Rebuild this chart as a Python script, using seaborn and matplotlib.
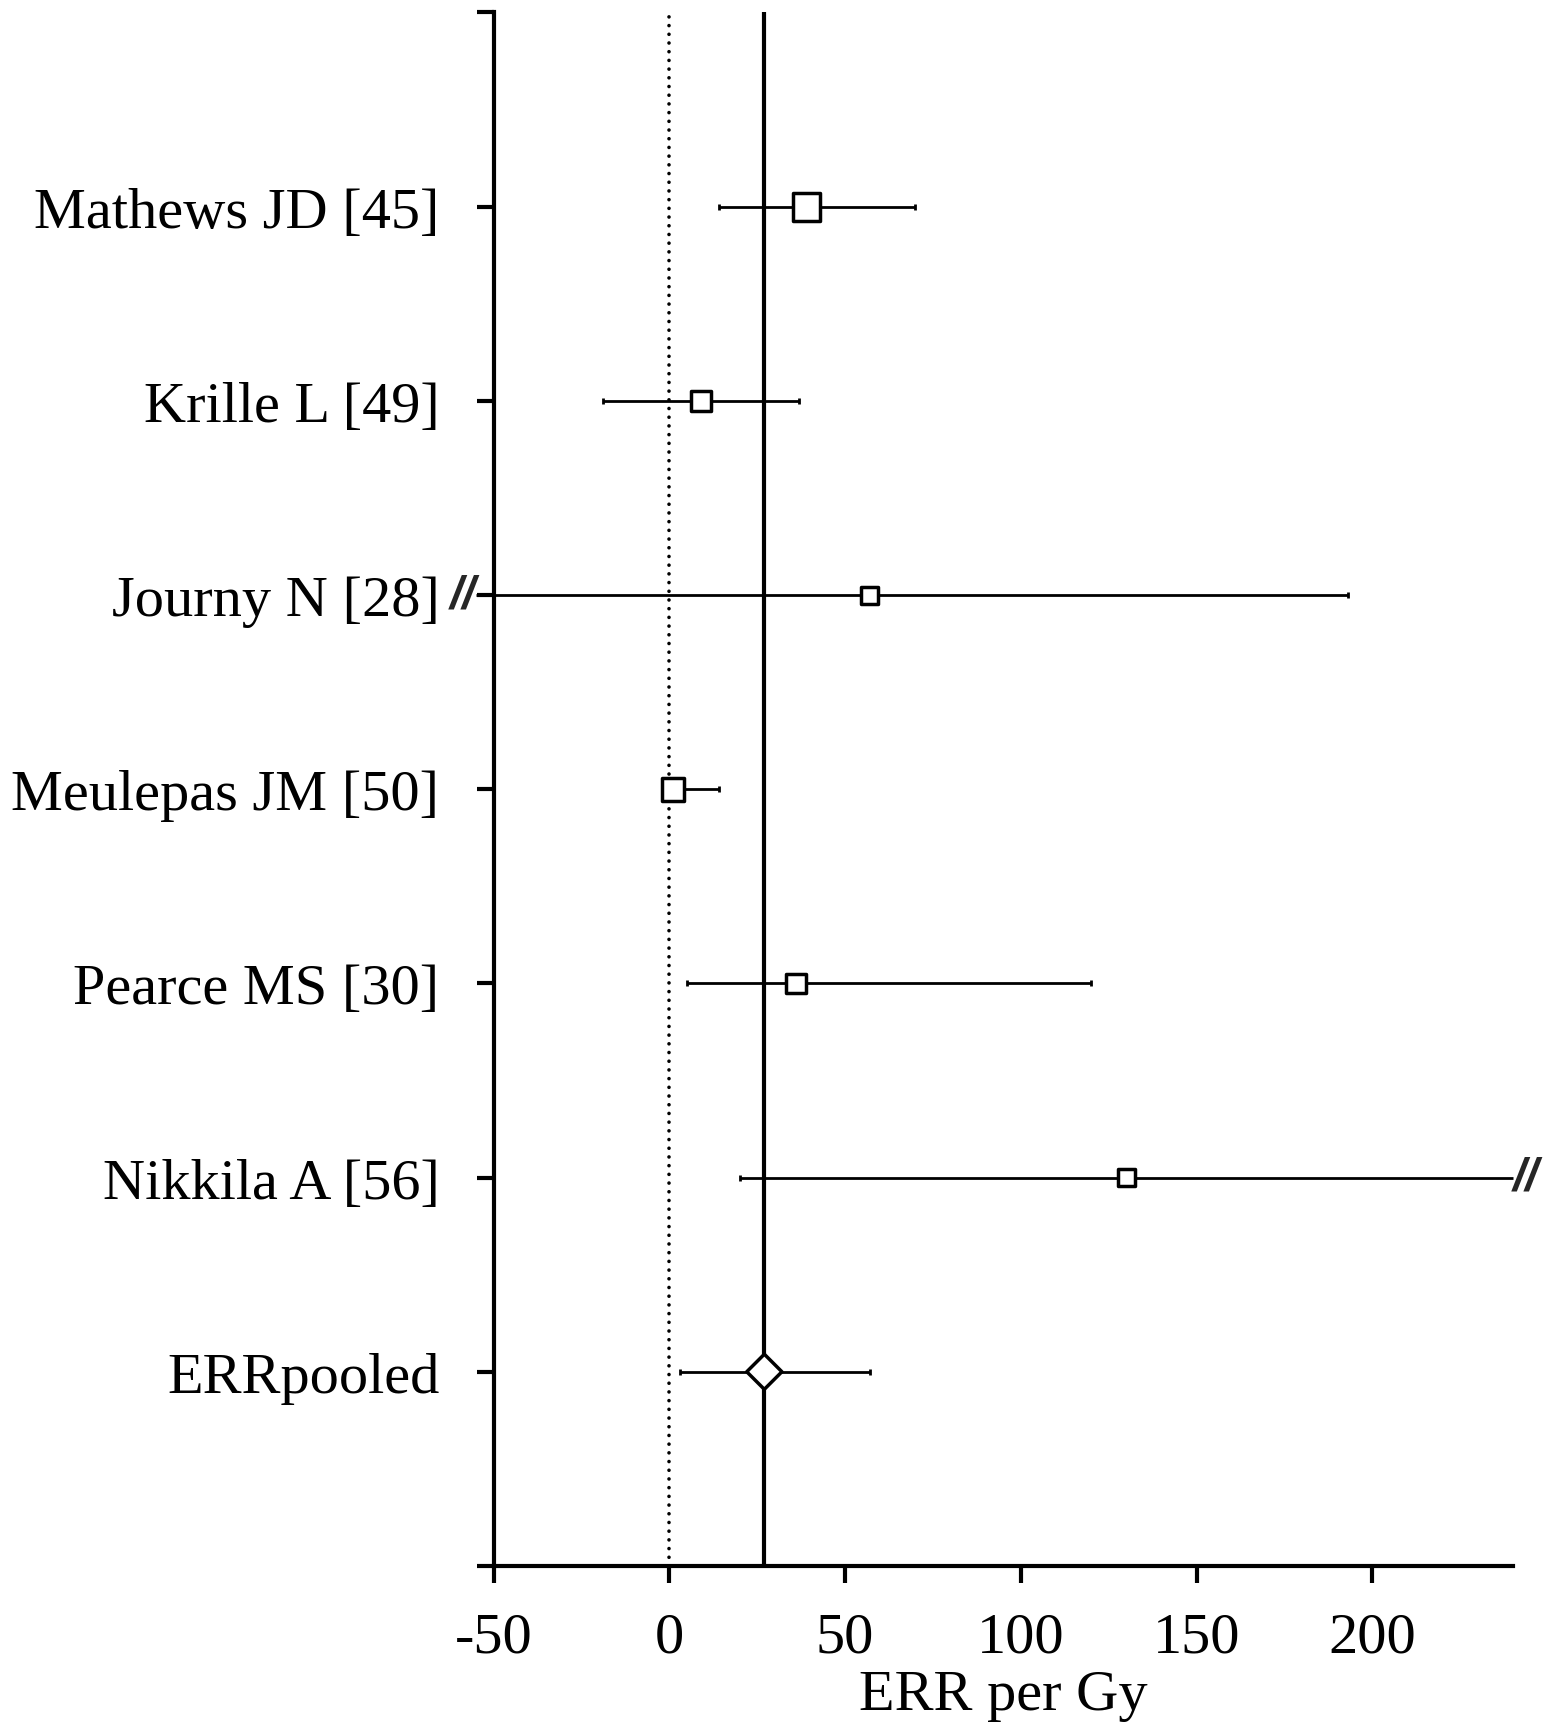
import matplotlib
matplotlib.use('Agg')
import matplotlib.pyplot as plt
import seaborn as sns
import pandas as pd
import numpy as np

# Forest plot data (ERR per Gy)
studies = ['Mathews JD [45]', 'Krille L [49]', 'Journy N [28]', 'Meulepas JM [50]',
           'Pearce MS [30]', 'Nikkila A [56]', 'ERRpooled']
estimate = [39, 9, 57, 1, 36, 130, 27]
lower = [14, -19, -55, 0, 5, 20, 3]
upper = [70, 37, 193, 14, 120, 240, 57]
weight = [400, 220, 150, 265, 200, 150, 320]   # marker area
kind = ['study', 'study', 'study', 'study', 'study', 'study', 'pooled']
broken_low = [False, False, True, False, False, False, False]
broken_high = [False, False, False, False, False, True, False]
xticks = [-50, 0, 50, 100, 150, 200]

df = pd.DataFrame({'study': studies, 'est': estimate, 'lo': lower, 'hi': upper,
                   'w': weight, 'kind': kind, 'pos': np.arange(len(studies))})

sns.set_theme(style='ticks')
plt.rcParams['font.family'] = ['Liberation Serif', 'DejaVu Serif']

fig = plt.figure(figsize=(15.49, 17.24), dpi=100)
ax = fig.add_axes([0.3187, 0.0911, 0.6581, 0.9011])

pooled = df.loc[df['kind'] == 'pooled', 'est'].iloc[0]

# reference lines
ax.axvline(0, color='black', lw=2.6, linestyle=(0, (0.01, 2.4)), dash_capstyle='round', zorder=1)
ax.axvline(pooled, color='black', lw=3, zorder=1)

# confidence intervals
ax.hlines(df['pos'], df['lo'], df['hi'], color='black', lw=2, zorder=2, clip_on=False)
for i, r in df.iterrows():
    if not broken_low[i]:
        ax.plot(r['lo'], r['pos'], marker='|', ms=5, mew=2, color='black', zorder=2)
    else:
        ax.text(r['lo'], r['pos'], '//', ha='right', va='center', fontsize=34,
                fontweight='bold', fontstyle='italic', family='Liberation Sans',
                zorder=3, clip_on=False)
    if not broken_high[i]:
        ax.plot(r['hi'], r['pos'], marker='|', ms=5, mew=2, color='black', zorder=2)
    else:
        ax.text(r['hi'], r['pos'], '//', ha='left', va='center', fontsize=34,
                fontweight='bold', fontstyle='italic', family='Liberation Sans',
                zorder=3, clip_on=False)

# point estimates
sns.scatterplot(data=df, x='est', y='pos', size='w', sizes=(min(weight), max(weight)),
                style='kind', markers={'study': 's', 'pooled': 'D'},
                facecolor='white', edgecolor='black', linewidth=2.5, legend=False,
                ax=ax, zorder=4, clip_on=False)

ax.set_xlim(-50, 240)
ax.set_ylim(len(studies), -1)
ax.set_yticks(range(-1, len(studies) + 1))
ax.set_yticklabels([''] + studies + [''])
ax.set_xticks(xticks)
ax.set_xticklabels(['-50', '0', '50', '100', '150', '200'])
ax.set_xlabel('ERR per Gy', fontsize=42, labelpad=4, color='black')
ax.set_ylabel('')

sns.despine(ax=ax)
for s in ['left', 'bottom']:
    ax.spines[s].set_linewidth(3)
    ax.spines[s].set_color('black')
ax.tick_params(axis='both', length=12, width=3, color='black', labelsize=42,
               labelcolor='black')
ax.tick_params(axis='x', pad=21)
ax.tick_params(axis='y', pad=27)
ax.grid(False)

fig.savefig('out.png', dpi=100, facecolor='white')
